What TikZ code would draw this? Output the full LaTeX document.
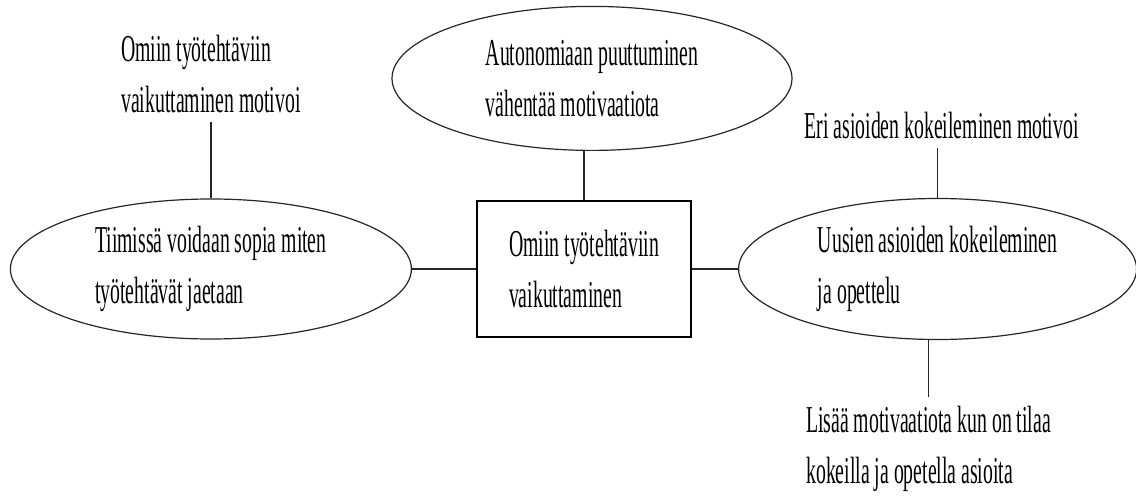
\documentclass[tikz,border=0pt]{standalone}
\usepackage{fontspec}
\setmainfont{Liberation Serif}[FakeStretch=0.52]
\usetikzlibrary{positioning, shapes.geometric}

\begin{document}
\begin{tikzpicture}[
      x=1pt, y=-1pt,
      every node/.style={font=\fontsize{38}{51}\selectfont, align=left},
      link/.style={line width=1.3pt, draw=black!85},
      topic/.style={ellipse, draw=black!85, line width=1.2pt, inner sep=0pt},
      mainbox/.style={rectangle, draw, line width=2pt, minimum width=214pt, minimum height=136pt},
      remark/.style={inner sep=9pt}
   ]
      \useasboundingbox (0,0) rectangle (1136,503);

      % Central theme and the three topics round it
      \node[mainbox] (core) at (584,269) {Omiin työtehtäviin\\vaikuttaminen};
      \node[topic, minimum width=400pt, minimum height=144pt, above=49pt of core, xshift=8pt] (autonomy) {Autonomiaan puuttuminen\\vähentää motivaatiota};
      \node[topic, minimum width=401pt, minimum height=140pt, left=64pt of core] (team) {Tiimissä voidaan sopia miten\\työtehtävät jaetaan};
      \node[topic, minimum width=398pt, minimum height=141pt, right=46pt of core] (trying) {Uusien asioiden kokeileminen\\ja opettelu};

      % Remarks
      \node[remark, above=76pt of team] (teamnote) {Omiin työtehtäviin\\vaikuttaminen motivoi};
      \node[remark, above=50pt of trying, xshift=4pt] (tryabove) {Eri asioiden kokeileminen motivoi};
      \node[remark, below=57pt of trying, xshift=-9pt] (trybelow) {Lisää motivaatiota kun on tilaa\\kokeilla ja opetella asioita};

      % Connectors
      \draw[link] (core.north) -- (core.north |- autonomy.south);
      \draw[link] (team.east) -- (core.west);
      \draw[link] (core.east) -- (trying.west);
      \draw[link] (teamnote.south) -- (team.north);
      \draw[link] (trying.north) -- (trying.north |- tryabove.south);
      \draw[link] (trybelow.north) -- (trybelow.north |- trying.south);

   \end{tikzpicture}
\end{document}
